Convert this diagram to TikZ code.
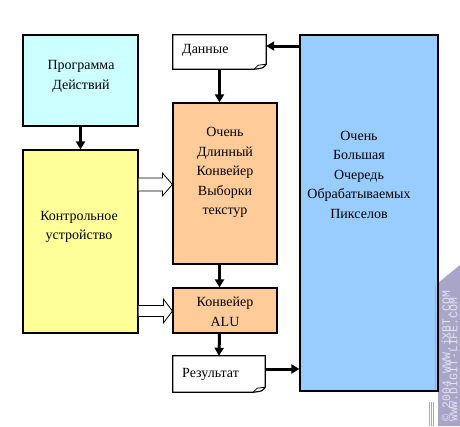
\documentclass[tikz,border=0pt]{standalone}
\usepackage{fontspec}
\setmainfont{Liberation Serif}
\newfontfamily\wmfont{Liberation Mono}
\usetikzlibrary{arrows.meta,calc}
\definecolor{progc}{HTML}{CCFFFF}
\definecolor{ctrlc}{HTML}{FFFF99}
\definecolor{orc}{HTML}{FFCC99}
\definecolor{bluec}{HTML}{99CCFF}
\definecolor{wmc}{HTML}{A8A5C9}
\definecolor{wmtext}{HTML}{E4E3F0}
\tikzset{
  blk/.style={draw=black,line width=1.2pt,inner sep=0pt},
  txt/.style={font=\fontsize{14}{19.5}\selectfont,align=center,inner sep=0pt},
  thick arrow/.style={line width=3pt,-{Triangle[width=9pt,length=8pt]}},
  hollow/.style={draw=black,line width=0.8pt,fill=white},
  note/.style={line width=1.2pt,fill=white,draw=black},
  wm/.style={rotate=90,anchor=west,text=wmtext,font=\wmfont\fontsize{11.5}{11.5}\selectfont,inner sep=0pt}
}
\begin{document}
\begin{tikzpicture}[x=1pt,y=-1pt]
\useasboundingbox (0,0) rectangle (460,426);
% watermark
\fill[wmc] (438,283) -- (460,265) -- (460,426) -- (438,426) -- cycle;
\foreach \xx in {429,431,433} \draw[wmc,line width=0.6pt] (\xx,402) -- (\xx,426);
% boxes
\node[blk,fill=progc,minimum width=115,minimum height=91] (prog) at (80.5,80.5) {};
\node[txt] (progt) at (81,76.5) {Программа\\Действий};
\node[blk,fill=ctrlc,minimum width=115,minimum height=183] (ctrl) at (80.5,241.5) {};
\node[txt] (ctrlt) at (79,227) {Контрольное\\устройство};
\node[blk,fill=orc,minimum width=104,minimum height=161] (ochen) at (225,183.5) {};
\node[txt] (ochent) at (225,172.5) {Очень\\Длинный\\Конвейер\\Выборки\\текстур};
\node[blk,fill=orc,minimum width=104,minimum height=45] (alu) at (225,310.5) {};
\node[txt] (alut) at (225,312) {Конвейер\\ALU};
\node[blk,fill=bluec,minimum width=138,minimum height=356] (big) at (369,213) {};
\node[txt] (bigt) at (359,174.5) {Очень\\Большая\\Очередь\\Обрабатываемых\\Пикселов};
\draw[wmc,line width=0.8pt] (435.5,286) -- (435.5,390);
% note shapes
\node[minimum width=93,minimum height=34,inner sep=0pt] (dan) at (219.5,52) {};
\draw[note] (dan.north west) -- (dan.north east) -- ($(dan.south east)+(0,-5)$)
  .. controls ($(dan.south east)+(-3,-1)$) .. ($(dan.south east)+(-12,0)$) -- (dan.south west) -- cycle;
\draw[line width=0.8pt] ($(dan.south east)+(-12,0)$) -- ($(dan.south east)+(-8,-4)$) -- ($(dan.south east)+(0,-5)$);
\node[txt,anchor=west] (dant) at (182,50) {Данные};
\node[minimum width=92,minimum height=36,inner sep=0pt] (res) at (219,374) {};
\draw[note] (res.north west) -- (res.north east) -- ($(res.south east)+(0,-5)$)
  .. controls ($(res.south east)+(-3,-1)$) .. ($(res.south east)+(-12,0)$) -- (res.south west) -- cycle;
\draw[line width=0.8pt] ($(res.south east)+(-12,0)$) -- ($(res.south east)+(-8,-4)$) -- ($(res.south east)+(0,-5)$);
\node[txt,anchor=west] (rest) at (182,374) {Результат};
% thick arrows
\draw[thick arrow] (prog.south) -- (ctrl.north -| prog.south);
\draw[thick arrow] (dan.south) -- (ochen.north -| dan.south);
\draw[thick arrow] (ochen.south -| dan.south) -- (alu.north -| dan.south);
\draw[thick arrow] (alu.south -| dan.south) -- (res.north);
\coordinate (danin) at (dan.east |- 0,46);
\draw[thick arrow] (big.west |- danin) -- (danin);
\coordinate (resout) at (res.east |- 0,369);
\draw[thick arrow] (resout) -- (big.west |- resout);
% hollow arrows
\coordinate (h1) at (ctrl.east |- 0,184.5);
\coordinate (h1t) at (ochen.west |- h1);
\draw[hollow] ($(h1)+(0,-6.5)$) -- ($(h1t)+(-10,-6.5)$) -- ($(h1t)+(-10,-11.5)$) -- (h1t)
  -- ($(h1t)+(-10,11.5)$) -- ($(h1t)+(-10,6.5)$) -- ($(h1)+(0,6.5)$);
\coordinate (h2) at (ctrl.east |- 0,311);
\coordinate (h2t) at (alu.west |- h2);
\draw[hollow] ($(h2)+(0,-5.5)$) -- ($(h2t)+(-9,-5.5)$) -- ($(h2t)+(-9,-12)$) -- (h2t)
  -- ($(h2t)+(-9,12)$) -- ($(h2t)+(-9,5.5)$) -- ($(h2)+(0,5.5)$);
% watermark text
\node[wm] (wm1) at (446,422) {© 2004 WWW.iXBT.COM};
\node[wm] (wm2) at (453.5,422) {WWW.DIGIT-LIFE.COM};
\end{tikzpicture}
\end{document}
